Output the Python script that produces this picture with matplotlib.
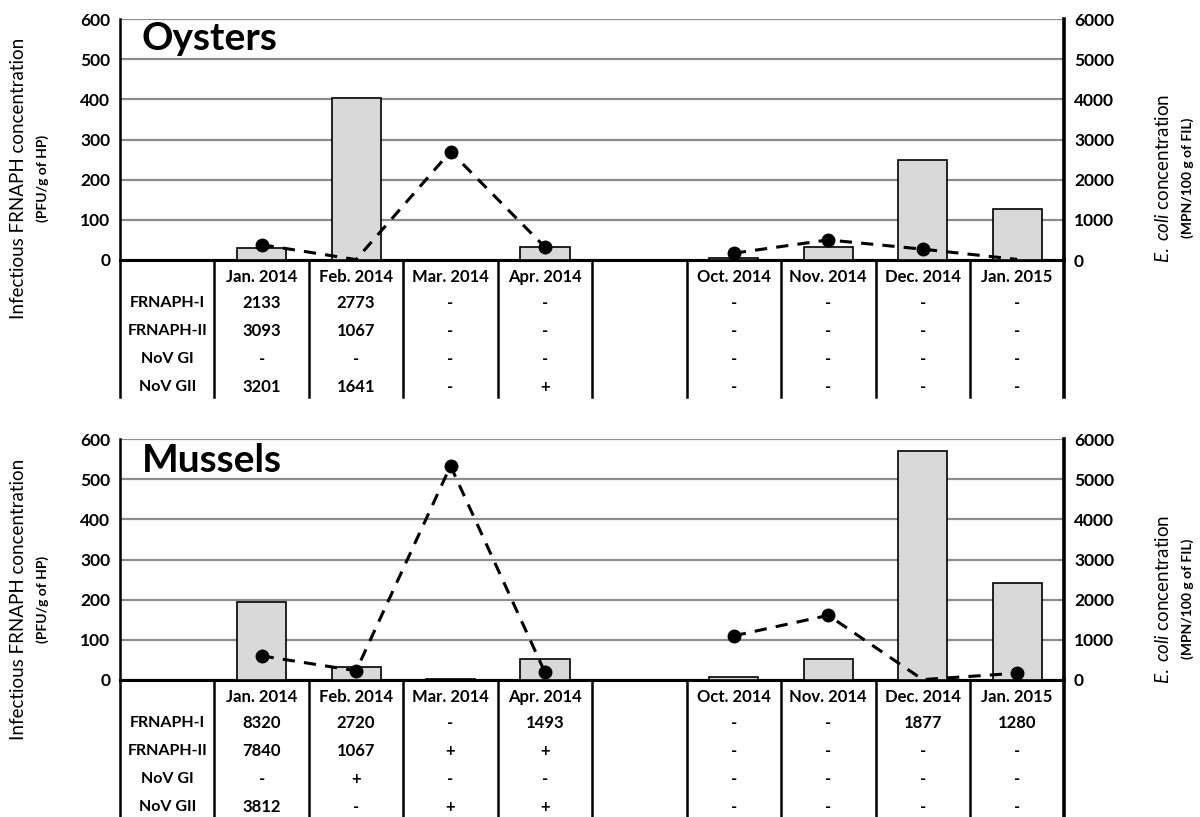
import matplotlib
matplotlib.use("Agg")
import matplotlib.pyplot as plt
import numpy as np

plt.rcParams['font.family'] = ['Lato', 'DejaVu Sans']
plt.rcParams['mathtext.fontset'] = 'custom'
plt.rcParams['mathtext.it'] = 'Lato:italic'
plt.rcParams['mathtext.rm'] = 'Lato'

# slot 0 holds the row labels, slot 5 is the empty gap column
months = ['', 'Jan. 2014', 'Feb. 2014', 'Mar. 2014', 'Apr. 2014', '',
          'Oct. 2014', 'Nov. 2014', 'Dec. 2014', 'Jan. 2015']
row_labels = ['FRNAPH-I', 'FRNAPH-II', 'NoV GI', 'NoV GII']

# FRNAPH (PFU/g of HP), left axis
oys_frnaph = [np.nan, 30, 403, 1, 33, np.nan, 4, 33, 248, 127]
mus_frnaph = [np.nan, 193, 33, 3, 53, np.nan, 8, 53, 569, 242]
# E. coli (MPN/100 g of FIL), right axis
oys_ecoli = [np.nan, 380, 10, 2700, 320, np.nan, 170, 500, 270, 15]
mus_ecoli = [np.nan, 600, 230, 5330, 190, np.nan, 1100, 1610, 10, 170]

oys_table = [
    ['2133', '2773', '-', '-', '', '-', '-', '-', '-'],
    ['3093', '1067', '-', '-', '', '-', '-', '-', '-'],
    ['-', '-', '-', '-', '', '-', '-', '-', '-'],
    ['3201', '1641', '-', '+', '', '-', '-', '-', '-'],
]
mus_table = [
    ['8320', '2720', '-', '1493', '', '-', '-', '1877', '1280'],
    ['7840', '1067', '+', '+', '', '-', '-', '-', '-'],
    ['-', '+', '-', '-', '', '-', '-', '-', '-'],
    ['3812', '-', '+', '+', '', '-', '-', '-', '-'],
]

fig = plt.figure(figsize=(12, 8.17), dpi=100)

ax_h = 241 / 817


def draw_panel(bottom, title, frnaph, ecoli, table, title_y):
    ax = fig.add_axes([0.1, bottom, 0.787, ax_h])
    ax2 = ax.twinx()
    x = np.arange(len(months))

    ax.bar(x, frnaph, width=0.52, color='#d9d9d9', edgecolor='black', linewidth=1.2, zorder=3)
    ax.set_xlim(-0.5, 9.5)
    ax.set_ylim(0, 600)
    ax.set_yticks(range(0, 601, 100))
    ax.yaxis.grid(True, color='#8c8c8c', linewidth=1.6, zorder=0)
    ax.set_axisbelow(True)
    ax.set_xticks([])

    e = np.array(ecoli, dtype=float)
    vis = [i for i, v in enumerate(e) if not np.isnan(v) and v > 60]
    ax2.plot(x, e, color='black', linestyle=(0, (4, 3)), linewidth=2.2,
             marker='o', markersize=9, markevery=vis, zorder=4)
    ax2.set_ylim(0, 6000)
    ax2.set_yticks(range(0, 6001, 1000))

    for a in (ax, ax2):
        a.spines['top'].set_visible(False)
        a.tick_params(axis='y', length=0, labelsize=12.5, pad=7)
        for lab in a.get_yticklabels():
            lab.set_fontweight('bold')
    ax.spines['left'].set_linewidth(1.8)
    ax.spines['bottom'].set_linewidth(2.2)
    ax2.spines['right'].set_linewidth(2.6)
    ax2.spines['left'].set_visible(False)
    ax2.spines['bottom'].set_visible(False)
    ax.spines['right'].set_visible(False)

    ax.text(0.023, title_y, title, transform=ax.transAxes, fontsize=28,
            fontweight='bold', va='baseline', ha='left')

    # table below the axis
    tr = ax.get_xaxis_transform()
    depth = -137 / 241
    for xb in np.arange(-0.5, 9.6, 1.0):
        lw = 2.6 if xb == 9.5 else 1.8
        ax.plot([xb, xb], [0, depth], transform=tr, color='black', linewidth=lw, clip_on=False)

    head_y = -17 / 241
    row_y = [-43 / 241, -71 / 241, -99 / 241, -127 / 241]
    for i, m in enumerate(months):
        if m:
            ax.text(i, head_y, m, transform=tr, ha='center', va='center',
                    fontsize=12, fontweight='bold')
    for r, lab in enumerate(row_labels):
        ax.text(0, row_y[r], lab, transform=tr, ha='center', va='center',
                fontsize=11.5, fontweight='bold')
        for c, val in enumerate(table[r]):
            ax.text(c + 1, row_y[r], val, transform=tr, ha='center', va='center',
                    fontsize=12, fontweight='bold')
    return ax, ax2


draw_panel(1 - 260 / 817, 'Oysters', oys_frnaph, oys_ecoli, oys_table, 0.871)
draw_panel(1 - 680 / 817, 'Mussels', mus_frnaph, mus_ecoli, mus_table, 0.863)

for cy in (178, 599):
    yf = 1 - cy / 817
    fig.text(19 / 1200, yf, 'Infectious FRNAPH concentration', rotation=90,
             ha='center', va='center', fontsize=13.5)
    fig.text(43 / 1200, yf, '(PFU/g of HP)', rotation=90,
             ha='center', va='center', fontsize=10, fontweight='bold')
    fig.text(1163 / 1200, yf, r'$\it{E.}$ $\it{coli}$ concentration', rotation=90,
             ha='center', va='center', fontsize=13.5)
    fig.text(1188 / 1200, yf, '(MPN/100 g of FIL)', rotation=90,
             ha='center', va='center', fontsize=10, fontweight='bold')

fig.savefig('out.png', dpi=100)
